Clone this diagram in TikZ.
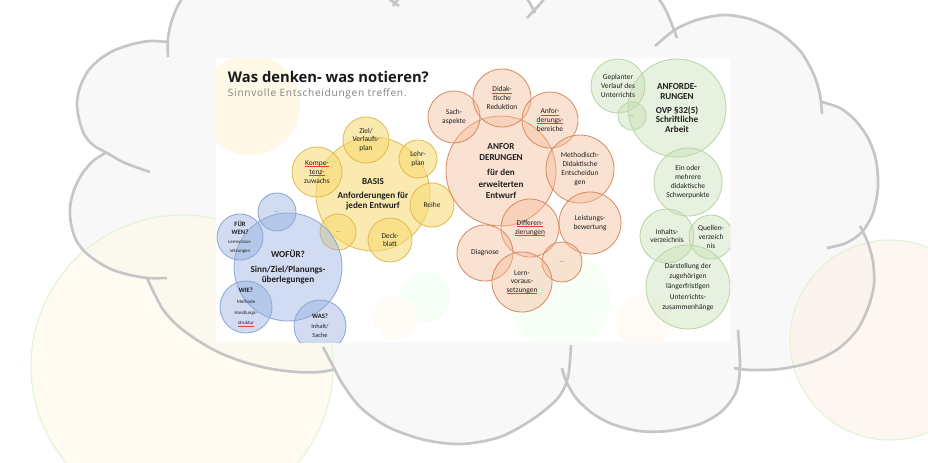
\documentclass[tikz,border=0pt]{standalone}
\usepackage{fontspec}
\setmainfont{Carlito}
\newfontfamily\handfont{Open Sans}

\definecolor{cloudfill}{HTML}{F8F8F8}
\definecolor{cloudline}{HTML}{C6C6C6}
\definecolor{yelfill}{HTML}{F8DA70}
\definecolor{yeldraw}{HTML}{E2BC52}
\definecolor{bluefill}{HTML}{93ADE1}
\definecolor{bluedraw}{HTML}{8EA6D6}
\definecolor{orafill}{HTML}{F5BB97}
\definecolor{oradraw}{HTML}{D98C63}
\definecolor{grnfill}{HTML}{C6DEB4}
\definecolor{grndraw}{HTML}{B9D6A8}
\definecolor{paleline}{HTML}{E2F4D6}
\definecolor{palecream}{HTML}{FFF8E6}
\definecolor{palepeach}{HTML}{FCEFE6}

\newcommand\bigtxt{\bfseries\fontsize{6.5}{6.9}\selectfont}
\newcommand\smalltxt{\fontsize{5.3}{6.2}\selectfont}
\newcommand\tinytxt{\fontsize{3.5}{4.3}\selectfont}
\newcommand\wastxt{\fontsize{4.5}{5.4}\selectfont}
\newcommand\qtxt{\bfseries\fontsize{4.7}{5.6}\selectfont}
\newcommand\spell[1]{\setbox0\hbox{#1}\rlap{\color{red!80}\rule[-0.8pt]{\wd0}{0.3pt}}\box0}

\tikzset{rad/.style={minimum size=#1*0.05cm}}

\begin{document}
\begin{tikzpicture}[x=0.025cm,y=-0.025cm]
	\tikzstyle{bubble} = [circle,inner sep=0pt,align=center,line width=0.6pt,text=black!88,text opacity=1,font=\smalltxt]
	\tikzstyle{yel} = [bubble,draw=yeldraw,fill=yelfill,fill opacity=0.55]
	\tikzstyle{blu} = [bubble,draw=bluedraw,fill=bluefill,fill opacity=0.42]
	\tikzstyle{ora} = [bubble,draw=oradraw,fill=orafill,fill opacity=0.42]
	\tikzstyle{grn} = [bubble,draw=grndraw,fill=grnfill,fill opacity=0.42]
	\tikzstyle{blob} = [fill opacity=0.55,line width=0.8pt]

	\useasboundingbox (0,0) rectangle (928,462);
	\clip (0,0) rectangle (928,462);
	\fill[white] (0,0) rectangle (928,462);

	% cloud
	\path[save path=\cloudbumps]
		plot[smooth] coordinates {(168,57) (168,38) (172,20) (180,2) (200,-25) (240,-45) (300,-50) (350,-35) (380,-8) (399,6)}
		plot[smooth] coordinates {(393,6) (405,-8) (440,-35) (490,-32) (522,-8) (535,13)}
		plot[smooth] coordinates {(527,18) (540,4) (560,-18) (600,-32) (640,-20) (663,5) (677,38)}
		plot[smooth] coordinates {(655,46) (676,29) (700,19) (726,15) (753,20) (780,33) (801,52) (814,75) (820,95) (822,114)}
		plot[smooth] coordinates {(822,102) (840,108) (855,120) (868,138) (876,160) (878,187) (873,213) (862,232) (846,243) (827,248)}
		plot[smooth] coordinates {(860,226) (868,243) (873,262) (874,285) (868,308) (857,330) (838,349) (812,362) (780,369) (750,370) (734,368)}
		plot[smooth] coordinates {(738,330) (740,367) (736,392) (722,411) (700,424) (668,431) (639,431) (612,424) (592,413) (576,398) (566,381) (562,368)}
		plot[smooth] coordinates {(571,345) (568,377) (558,398) (533,419) (500,437) (462,444) (425,440) (388,427) (360,407) (342,383) (333,366) (323,347)}
		plot[smooth] coordinates {(147,278) (155,295) (164,311) (178,326) (197,340) (220,353) (247,363) (272,369) (297,372) (320,372) (336,369)}
		plot[smooth] coordinates {(107,152) (93,161) (82,174) (74,190) (70,207) (71,224) (76,240) (85,252) (98,262) (113,270) (130,275) (148,278) (167,278)}
		plot[smooth] coordinates {(168,42) (150,41) (133,44) (115,50) (100,59) (88,71) (80,87) (77,103) (79,119) (84,134) (93,145) (107,153) (125,163) (150,172)};
	\fill[cloudfill] (168,57) -- (399,6) -- (393,6) -- (535,13) -- (527,18) -- (677,38) -- (655,46) -- (822,114)
		-- (822,102) -- (827,248) -- (860,226) -- (734,368) -- (738,330) -- (562,368) -- (571,345) -- (323,347)
		-- (336,369) -- (147,278) -- (167,278) -- (107,152) -- (150,172) -- (168,42) -- cycle;
	\path[use path=\cloudbumps,fill=cloudfill];

	% faint circles round the cloud
	\filldraw[blob,fill=palecream,draw=paleline] (182,366) circle[radius=151];
	\filldraw[blob,fill=palepeach,draw=paleline] (890,340) circle[radius=100];

	\path[use path=\cloudbumps,draw=cloudline,line width=1.9pt];

	% slide
	\fill[white] (216,58) rectangle (730,342);
	\begin{scope}
		\clip (216,58) rectangle (730,342);
		\fill[palecream] (250,105) circle[radius=50];
		\fill[green!3] (560,300) circle[radius=50];
		\fill[green!4] (425,297) circle[radius=25];
		\fill[orange!3] (395,318) circle[radius=22];
		\fill[orange!4] (643,322) circle[radius=27];

		\node[anchor=west,font=\handfont\bfseries\fontsize{10.5}{12}\selectfont,text=black!90] (title) at (223,77) {Was denken- was notieren?};
		\node[anchor=west,font=\handfont\fontsize{7.2}{8}\selectfont\addfontfeatures{LetterSpace=7},text=black!50] (subtitle) at (223,94) {Sinnvolle Entscheidungen treffen.};

		% Basis
		\node[yel,rad=57,font=\bigtxt] (basis) at (373,194) {BASIS\\[3pt]Anforderungen für\\jeden Entwurf};
		\node[yel,rad=23] (zielplan) at (366,140) {Ziel/\\Verlaufs-\\plan};
		\node[yel,rad=19] (lehrplan) at (418,159) {Lehr-\\plan};
		\node[yel,rad=25] (kompetenz) at (317,172) {\spell{Kompe-}\\\spell{tenz-}\\zuwachs};
		\node[yel,rad=22] (reihe) at (432,205) {Reihe};
		\node[yel,rad=18,font=\tinytxt] (yeldots) at (338,232) {...};
		\node[yel,rad=22] (deckblatt) at (390,240) {Deck-\\blatt};

		% Wofuer
		\node[blu,rad=54,font=\bigtxt] (wofuer) at (288,267) {WOFÜR?\\[3.5pt]Sinn/Ziel/Planungs-\\überlegungen};
		\node[blu,rad=19,font=\tinytxt] (bluedots) at (277,212) {...};
		\node[blu,rad=23] (fuerwen) at (240,237) {\qtxt FÜR\\\qtxt WEN?\\\tinytxt Lernvoraus-\\\tinytxt setzungen};
		\node[blu,rad=26] (wie) at (246,307) {\qtxt WIE?\\[1.5pt]\tinytxt Methode\\[1.5pt]\tinytxt Handlungs-\\[1.5pt]\tinytxt\spell{struktur}};
		\node[blu,rad=26] (was) at (320,326) {\qtxt WAS?\\[1pt]\wastxt Inhalt/\\\wastxt Sache};

		% Anforderungen erweitert
		\node[ora,rad=55,font=\bigtxt] (anford) at (501,171) {ANFOR\\[1.2pt]DERUNGEN\\[4pt]für den\\[1.2pt]erweiterten\\[1.2pt]Entwurf};
		\node[ora,rad=26] (sach) at (454,117) {Sach-\\aspekte};
		\node[ora,rad=29] (didaktik) at (502,98) {\spell{Didak-}\\tische\\Reduktion};
		\node[ora,rad=28] (anfbereiche) at (550,120) {\spell{Anfor-}\\\spell{derungs-}\\bereiche};
		\node[ora,rad=34] (methodisch) at (580,169) {Methodisch-\\Didaktische\\Entscheidun\\gen};
		\node[ora,rad=31] (leistung) at (590,223) {Leistungs-\\bewertung};
		\node[ora,rad=29] (differenz) at (530,228) {\spell{Differen-}\\\spell{zierungen}};
		\node[ora,rad=28] (diagnose) at (485,253) {Diagnose};
		\node[ora,rad=20,font=\tinytxt] (oradots) at (562,262) {...};
		\node[ora,rad=30] (lernvor) at (522,282) {Lern-\\voraus-\\\spell{setzungen}};

		% Anforderungen OVP
		\node[grn,rad=49,font=\bigtxt] (anfovp) at (677,108) {ANFORDE-\\RUNGEN\\[3pt]OVP §32(5)\\Schriftliche\\Arbeit};
		\node[grn,rad=27] (geplant) at (618,86) {Geplanter\\Verlauf des\\Unterrichts};
		\node[grn,rad=14,font=\tinytxt] (grndots) at (632,116) {...};
		\node[grn,rad=34] (schwerpunkte) at (688,182) {Ein oder\\mehrere\\didaktische\\Schwerpunkte};
		\node[grn,rad=27] (inhalt) at (667,236) {Inhalts-\\verzeichnis};
		\node[grn,rad=22] (quellen) at (711,237) {Quellen-\\verzeich\\nis};
		\node[grn,rad=42] (darstellung) at (688,287) {Darstellung der\\[1pt]zugehörigen\\[1pt]längerfristigen\\[1pt]Unterrichts-\\[1pt]zusammenhänge};
	\end{scope}
\end{tikzpicture}
\end{document}
